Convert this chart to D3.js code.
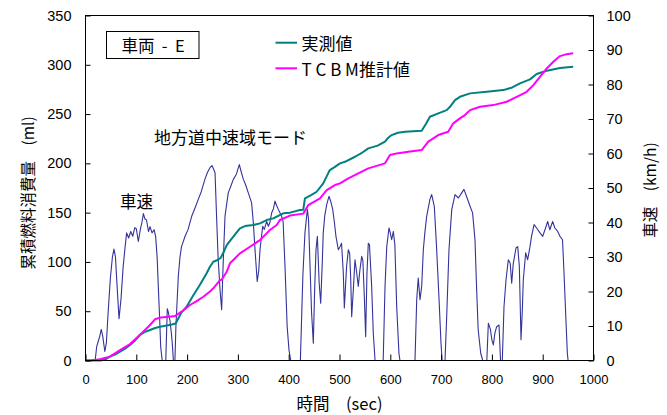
<!DOCTYPE html>
<html>
<head>
<meta charset="utf-8">
<script src="https://cdn.jsdelivr.net/npm/d3@7"></script>
<style>
  html, body { margin: 0; padding: 0; background: #fff; }
  svg { display: block; }
  .num { font-family: "Liberation Sans", Arial, sans-serif; fill: #000; }
  .jp { font-family: "Noto Sans CJK JP", "Noto Sans", sans-serif; fill: #000; white-space: pre; }
</style>
</head>
<body>
<svg id="chart" width="667" height="415"></svg>
<script>
// Drive cycle: vehicle speed (km/h) over time (sec)
const speedTime = [0,19,22,25,28,31,34,38,41,45,49,53,56,59,62,66,70,74,78,81,85,89,93,97,100,104,108,111,114,117,120,124,127,131,135,138,141,143,146,148,151,158,161,163,166,169,171,173,176,178,182.7,186,189,196,202,209,215,222,228,235,240,245,249,252,255,258,261,264.8,268,271,274.6,281,286,291,297,302.8,306,310.7,315,320.5,327,330.4,333.7,338,341,343.5,348.8,352,356.6,360,363,366.5,370,373,376,379.6,386,389,392.7,397,400.6,404,423,425.5,428,432,436.7,439,442,445,448.5,451,453.7,456.4,460,463,466,468,471,474.8,479.3,483,486.6,490,493,497.7,501,504,507.5,509.5,512,514,517.4,520,522,524,527,530.5,534,537,540,543.7,546,549,551.5,554,556.7,559,563.3,566.5,570,586,589.6,593,597.4,600,602.7,606,609,612.6,617,619,648.6,652,655,658.5,661.8,665,668,671.6,678,681.5,686.6,691,696,699.8,702,707.7,711,715.5,721,727.4,734,740.5,745,750,757,762,766.7,770,773,778,782,790,793,797,800,802.8,806,809.4,814,817,820.5,823.8,827.8,832.3,836,839,842,847.4,850.8,854,857.3,860,861.8,866.5,870.4,875,878,883,888,894.7,900,904.5,909.8,914,919.6,924,929.5,934,939,942,946,948.5,950,960];
const speedKmh = [0,0,4,5.5,7,9,7,2.6,5,15,24,30,32.3,30,22,12.1,18,27,33,37,35.5,37.4,36,38.5,38.2,34.5,38,40,42.6,41,40.8,37.4,38.8,37,37.9,36,30,22.5,12,4,0,0,15,14,11.8,8,4.5,0,0,10,24.4,30,33,36,38,41.8,44,46.7,49,52.5,54.5,55.9,56.5,55.5,54.4,41.8,30,20.5,14.7,28,41.8,48.6,50.5,52.5,54,56.8,55,52.5,51,48.6,45.7,39.9,32.1,22.9,26,32.1,38.9,38,40.3,38.9,40,42.8,44,46.2,45,43.8,41.8,40.3,27.3,9.8,3,0,0,12.7,25,37,43.8,41,27.3,14,5,20,32.1,36,22.4,16.6,28,37,42,45.2,47.6,46,43.8,40,36,32.1,33,34,25.3,15.2,22,27.3,32.1,31,24,12.7,20,29.2,25.3,21.5,26,30.2,29,18,6.9,25,34,33.5,21.5,7.9,0,0,21.5,33,38.4,37,35,37.4,33.5,15.6,2.1,0,0,17.6,23.9,17.6,21.5,32.1,37,41.8,46.7,48.1,44.7,33,17.6,5,0,0,12.7,32.1,43.8,48.1,47.1,48.6,49.6,47.6,44.7,42.8,35,20.5,8.9,2.1,0,0,10.8,9,6,4.5,8,9.8,10.3,0,0,15.6,23.4,29.2,28.2,22.4,28,32.6,33,27.3,6,15,23.4,31.2,29.2,33,36,39.4,38.4,37,36,37.9,40.3,37.9,40.3,38.4,37.4,36,35,25.3,10.8,2.1,0,0];

// Cumulative fuel consumption (ml): measured
const measuredTime = [0,30,40,48,58,68,78,87.6,97,107,117,127,137,146.7,160,170,177.5,188,199,212,225,238,245,251.6,260,266,272,278,291,304,314,330,343.5,356.6,369.7,389.4,402.6,422,428.7,432,445,455,468,474,481,491,501,510.8,530.5,545,556.7,575,589.6,596,602.7,615,629,645,661.8,670,678,694.5,711,717.5,727.4,737,757,789.8,822.4,840,855.3,875,888,907.9,934,960];
const measuredMl = [0,0,1.5,3.9,6,8.9,12,15.7,20,25.9,29,31,33,34.3,35.5,36.5,37.5,48,54.6,66,76.6,88,95.1,100.2,102,104,110,117.1,125.6,134,136.4,137.4,139.1,142.5,144.2,149.3,150,152.6,153,164.5,168,171.2,179.7,186,193.2,196.5,200,201.6,206.7,211,215.2,218,222,226,228.7,231,232,232.5,233,240,247.3,250.7,254,257.4,264.2,267.5,271,272.6,274.3,277,281.1,285.2,290.6,294,296.7,298];

// Cumulative fuel consumption (ml): TCBM estimate
const estimatedTime = [0,9,28.5,48,68,87.6,107,117,127,136.8,145,153,165,176,189,205.7,218,232,245,251.6,264.8,268,278,284.4,291,304,323.8,343.5,356.6,363,376.4,382.7,402.6,428.7,438.6,461.6,474.8,491,501,517.4,537,556.7,589.6,599.4,612.6,635.4,661.8,674.8,694.5,714,724,737,747,757,776.6,802.8,829,848.8,868.5,881.5,894.7,907.9,920.9,934,947,960];
const estimatedMl = [0,0,1.2,3.9,10.6,16.7,25.9,31,36,41.8,43.3,43.8,44.5,45.1,49.5,56.3,60,64.7,70,73.2,81.6,82,90,98.6,101.9,108.7,115.4,122.2,129,132.4,137.4,142.5,147,149,157.7,164.5,172.9,178,179.7,184.8,189.9,194.9,200,208.4,210.1,211.8,213.5,222,228.7,232,240.6,245.6,249,254,257.4,259.1,262.5,267.5,272.6,279.4,287.8,296.3,303,308.8,310.8,311.6];

const xTicks = [0,100,200,300,400,500,600,700,800,900,1000];
const fuelTicks = [0,50,100,150,200,250,300,350];
const speedTicks = [0,10,20,30,40,50,60,70,80,90,100];
const seriesNames = ["実測値", "T C B M推計値"];
const seriesColors = ["#008080", "#ff00ff"];

const svg = d3.select("#chart");
const plot = { left: 85.5, right: 593.5, top: 15.5, bottom: 360.5 };

const x = d3.scaleLinear().domain([0, 1000]).range([plot.left, plot.right]);
const yFuel = d3.scaleLinear().domain([0, 350]).range([plot.bottom, plot.top]);
const ySpeed = d3.scaleLinear().domain([0, 100]).range([plot.bottom, plot.top]);

// Series lines
const speedLine = d3.line().x(d => x(d[0])).y(d => ySpeed(d[1]));
const fuelLine = d3.line().x(d => x(d[0])).y(d => yFuel(d[1]));

svg.append("path")
  .datum(d3.zip(speedTime, speedKmh))
  .attr("d", speedLine)
  .attr("fill", "none")
  .attr("stroke", "#33339a")
  .attr("stroke-width", 1.1)
  .attr("stroke-linejoin", "round");

svg.append("path")
  .datum(d3.zip(measuredTime, measuredMl))
  .attr("d", fuelLine)
  .attr("fill", "none")
  .attr("stroke", seriesColors[0])
  .attr("stroke-width", 2)
  .attr("stroke-linejoin", "round");

svg.append("path")
  .datum(d3.zip(estimatedTime, estimatedMl))
  .attr("d", fuelLine)
  .attr("fill", "none")
  .attr("stroke", seriesColors[1])
  .attr("stroke-width", 2)
  .attr("stroke-linejoin", "round");

// Plot frame
svg.append("rect")
  .attr("x", plot.left).attr("y", plot.top)
  .attr("width", plot.right - plot.left).attr("height", plot.bottom - plot.top)
  .attr("fill", "none").attr("stroke", "#000").attr("stroke-width", 1);

// Axes with inward ticks
function styleAxis(g, fontSize) {
  g.select(".domain").remove();
  g.selectAll(".tick line").attr("stroke", "#000");
  g.selectAll(".tick text")
    .attr("class", "num")
    .style("font-size", fontSize + "px")
    .attr("fill", "#000");
}

svg.append("g")
  .attr("transform", `translate(0,${plot.bottom})`)
  .call(d3.axisBottom(x).tickValues(xTicks).tickSize(-6).tickPadding(14).tickFormat(d3.format("d")))
  .call(g => styleAxis(g, 13));

svg.append("g")
  .attr("transform", `translate(${plot.left},0)`)
  .call(d3.axisLeft(yFuel).tickValues(fuelTicks).tickSize(-5).tickPadding(14).tickFormat(d3.format("d")))
  .call(g => styleAxis(g, 14.5));

svg.append("g")
  .attr("transform", `translate(${plot.right},0)`)
  .call(d3.axisRight(ySpeed).tickValues(speedTicks).tickSize(-5).tickPadding(13).tickFormat(d3.format("d")))
  .call(g => styleAxis(g, 14.5));

// Axis titles
svg.append("text")
  .attr("class", "jp")
  .attr("transform", `translate(27,${(plot.top + plot.bottom) / 2 + 5}) rotate(-90)`)
  .attr("text-anchor", "middle")
  .attr("dominant-baseline", "central")
  .style("font-size", "15.5px")
  .text("累積燃料消費量　(ml)");

svg.append("text")
  .attr("class", "jp")
  .attr("transform", `translate(649,${(plot.top + plot.bottom) / 2 + 2}) rotate(-90)`)
  .attr("text-anchor", "middle")
  .attr("dominant-baseline", "central")
  .style("font-size", "15.5px")
  .text("車速　(km/h)");

svg.append("text")
  .attr("class", "jp")
  .attr("x", (plot.left + plot.right) / 2)
  .attr("y", 402.5)
  .attr("text-anchor", "middle")
  .attr("dominant-baseline", "central")
  .style("font-size", "16.5px")
  .text("時間　(sec)");

// Vehicle label box
svg.append("rect")
  .attr("x", 106.5).attr("y", 31.5).attr("width", 92.5).attr("height", 27)
  .attr("fill", "#fff").attr("stroke", "#000").attr("stroke-width", 1);
svg.append("text")
  .attr("class", "jp")
  .attr("x", 153).attr("y", 45)
  .attr("text-anchor", "middle")
  .attr("dominant-baseline", "central")
  .style("font-size", "16.5px")
  .text("車両  -  E");

// Legend
const legendY = [42.7, 68.3];
seriesNames.forEach((name, i) => {
  svg.append("line")
    .attr("x1", 275.5).attr("x2", 297)
    .attr("y1", legendY[i]).attr("y2", legendY[i])
    .attr("stroke", seriesColors[i]).attr("stroke-width", 2);
  svg.append("text")
    .attr("class", "jp")
    .attr("x", 301.5).attr("y", legendY[i])
    .attr("dominant-baseline", "central")
    .style("font-size", "17px")
    .text(name);
});

// Annotations
svg.append("text")
  .attr("class", "jp")
  .attr("x", 154).attr("y", 136.7)
  .attr("dominant-baseline", "central")
  .style("font-size", "17px")
  .text("地方道中速域モード");

svg.append("text")
  .attr("class", "jp")
  .attr("x", 120).attr("y", 201)
  .attr("dominant-baseline", "central")
  .style("font-size", "16.5px")
  .text("車速");
</script>
</body>
</html>
